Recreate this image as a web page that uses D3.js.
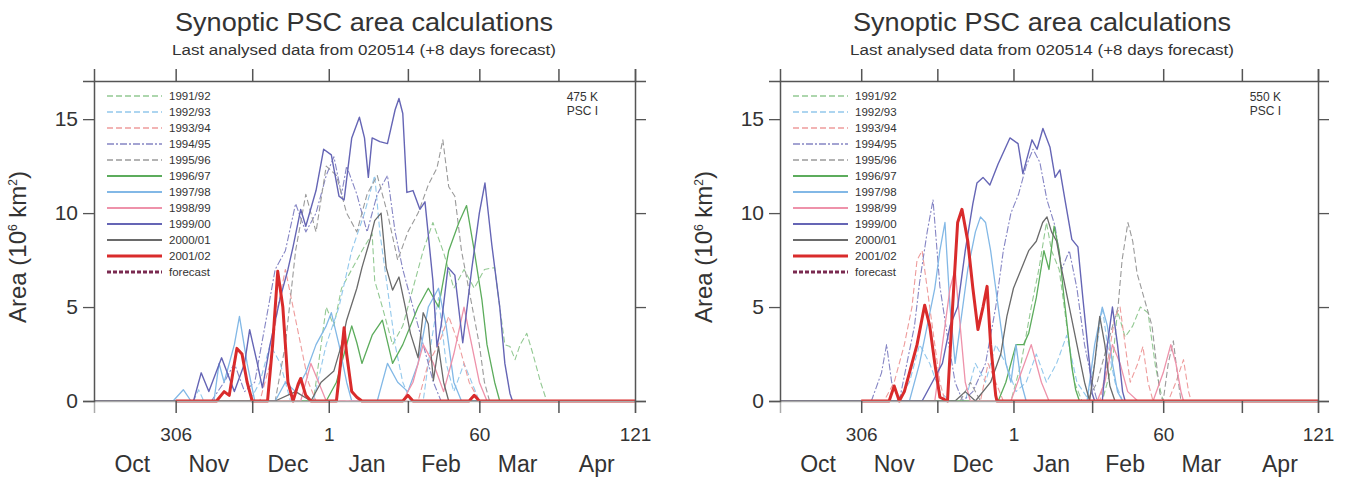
<!DOCTYPE html>
<html>
<head>
<meta charset="utf-8">
<script src="https://cdn.jsdelivr.net/npm/d3@7"></script>
<style>
  body { margin: 0; background: #fff; }
  svg { font-family: "Liberation Sans", Arial, sans-serif; }
</style>
</head>
<body>
<svg width="1350" height="479"></svg>
<script>
// day index: Jan 1 = 1, autumn days counted negative (doy - 365)
const seasons = ["1991/92", "1992/93", "1993/94", "1994/95", "1995/96", "1996/97",
                 "1997/98", "1998/99", "1999/00", "2000/01", "2001/02", "forecast"];
const dayTicks = [-59, -29, 1, 32, 60, 91, 121];
const dayTickLabels = {"-59": "306", "1": "1", "60": "60", "121": "121"};
const months = ["Oct", "Nov", "Dec", "Jan", "Feb", "Mar", "Apr"];
const monthMid = [-76, -46, -15, 16, 45, 75, 106];
const areaTicks = [0, 5, 10, 15];

// ---- 475 K ----
const k475_9192 = [[-91,0],[-5,0],[-2,3],[0,5],[3,4],[6,6],[10,7],[14,8],[18,8.9],[19,6.4],[22,5],[26,3],[30,4],[34,6],[38,8],[41.8,9.5],[46,7.9],[50,6],[54,7],[58,6],[62,7],[66,7.1],[68,5],[70,3],[72,2.9],[74,2.2],[76,3],[78.6,3.6],[81,2.5],[84,1],[86.4,0],[121,0]];
const k475_9293 = [[-91,0],[-52,0],[-50,0.6],[-48,0],[-30,0],[-26,1],[-22,3],[-18,2],[-14,0],[-5,0],[0,3],[5,5],[10,8],[15,10],[19,12],[21,9],[24,6],[27,3],[30,1],[33,0],[38,0],[41,3],[44,5.5],[47,2],[50,0.5],[54,2],[57,1],[60,0],[121,0]];
const k475_9394 = [[-91,0],[-26,0],[-22,2],[-19,5],[-16,7],[-13,5],[-10,3],[-7,1],[-4,0],[36,0],[40,2],[44,3],[48,4.5],[52,3],[56,1],[60,0],[121,0]];
const k475_9495 = [[-91,0],[-45,0],[-40,1],[-36,2],[-32,0.5],[-28,1],[-24,4],[-20,7],[-16,8],[-12,10.5],[-8,9],[-4,10],[0,12],[3,13],[6,11],[8,12.5],[12,11],[16,9],[20,11],[24,12],[27,9],[30,7],[34,5],[38,3],[42,1],[45,0],[121,0]];
const k475_9596 = [[-91,0],[-20,0],[-16,3],[-12,8],[-8,11],[-4,9],[0,12.5],[4,12],[8,10],[12,9],[16,11],[20,12],[24,10],[28,7.5],[32,9],[36,10],[40,11.5],[43.4,12.4],[45.7,13.9],[48,11.4],[50.4,10.9],[53,8],[57.5,4.8],[60,3],[62,1],[64,0],[121,0]];
const k475_9697 = [[-91,0],[0,0],[4,1],[7,2.5],[10,4],[12,3.1],[14,2],[18,3.5],[22,4.3],[26,2],[30,3],[36,5],[40,6],[44,5],[48,8],[52,9.5],[55,10.4],[58,8],[61,5.4],[63,3],[66,1],[68,0],[121,0]];
const k475_9798 = [[-91,0],[-60,0],[-56,0.6],[-53,0],[-44,0],[-42,2],[-40,1],[-36,3],[-34,4.5],[-31,2],[-28,0],[-20,0],[-16,1],[-12,0.5],[-8,1.5],[-4,3],[0,4],[2,4.7],[5,3],[8,1],[10,0],[20,0],[24,2],[28,1],[32,0.5],[36,2],[40,5],[44,6],[47,4],[50,1],[53,0],[121,0]];
const k475_9899 = [[-91,0],[-10,0],[-6,2],[-3,1],[0,0],[30,0],[34,1],[38,3],[42,2],[46,0.5],[50,2.5],[54,5],[57,3],[60,1],[63,0],[121,0]];
const k475_9900 = [[-91,0],[-52,0],[-49,1.5],[-46,0.5],[-41,2.3],[-36,0.5],[-32,2],[-30,3.8],[-27,2],[-25,0.7],[-22,3],[-18,5.5],[-15,7],[-13,8.2],[-10,10.2],[-8,9.3],[-4,11.2],[-1,13.4],[2,13.1],[5,10.9],[7,10.7],[10,14],[13,15.1],[15,14],[16.5,11.9],[18,14],[21,13.8],[24,13.7],[27,15.5],[28.5,16.1],[30,15.3],[31.6,11.1],[34,11.2],[36.7,10.2],[38.7,10.6],[41.8,6.4],[43.4,2.9],[45,4],[47.7,7.1],[50.4,6.7],[53.5,3.1],[57,7],[60,10],[62.2,11.6],[64.9,8.3],[68,5],[70,2],[72,0.4],[73,0],[121,0]];
const k475_0001 = [[-91,0],[-20,0],[-12,0.5],[-6,0],[-2,1],[3,1.6],[6,3],[8,4.3],[12,6],[14,7.1],[17,8.5],[19,9.6],[21.5,10],[23.5,7.1],[26,5.9],[28.5,6.6],[31,5],[33,3.6],[36,2.3],[38,4.7],[40,4.1],[42,1.1],[44,2.9],[46,1],[48,0],[121,0]];
const k475_0102 = [[-59,0],[-43,0],[-40,0.5],[-38,0.3],[-36,2],[-35,2.8],[-33,2.5],[-31,1],[-29,0],[-23,0],[-21,3],[-19,6.9],[-17,5],[-15,1],[-13,0],[-11,0.9],[-10,1.2],[-8,0.3],[-6,0],[4,0],[6,2.5],[7,3.9],[8,2.5],[10,0.5],[12,0.2],[14,0],[30,0],[32,0.3],[34,0],[56,0],[58,0.3],[60,0],[121,0]];

// ---- 550 K ----
const k550_9192 = [[-91,0],[0,0],[4,2],[8,5],[11,7],[14,9.5],[16,8],[19,7],[22,4],[25,1],[28,0],[36,0],[40,2],[42,4.8],[45,3.4],[48,4],[51,5],[54,4.7],[57,1.8],[59,0.5],[60,0],[121,0]];
const k550_9293 = [[-91,0],[-45,0],[-40,1],[-36,3],[-32,2],[-28,0.5],[-24,0],[-18,0],[-14,2],[-10,1],[-6,3],[-2,2],[2,0.5],[6,1],[10,2.5],[14,1],[18,2],[22,3.5],[26,1],[30,0.2],[33,2],[36,5],[38,3],[41,1],[44,0],[121,0]];
const k550_9394 = [[-91,0],[-50,0],[-46,1],[-42,3],[-39,5],[-37,7.5],[-35,8],[-33,6],[-30,3],[-28,1],[-26,0],[-12,0],[-9,2],[-6,1],[-3,0],[35,0],[38,2],[41,4.5],[43,5],[45,3],[47,1],[50,2],[52,2.9],[54,1],[56,0],[62,0],[65,1],[68,2.2],[70,0.5],[71,0],[121,0]];
const k550_9495 = [[-91,0],[-55,0],[-51,1.5],[-49,3],[-47,1],[-44,0],[-41,2],[-38,4],[-36,6.3],[-33,9],[-30.7,10.7],[-28,6.1],[-25.2,3.6],[-22,1],[-19,0],[-15,0.5],[-10,2],[-6,5],[-3,8],[0,10],[3,11],[6,12.5],[8.7,13.4],[11.4,12.7],[14.2,10.7],[17.4,9.3],[20,7],[23,8],[26,6],[29,3],[32,1],[34,0],[121,0]];
const k550_9596 = [[-91,0],[-20,0],[-16,1],[-12,0],[30,0],[34,1],[38,3],[42.2,5],[43.8,7.5],[46.1,9.5],[48,8.5],[49.7,6.8],[52,5.7],[55.6,4],[57.5,1.8],[58.7,0.4],[60,0],[62,2],[64,3.2],[66,1],[67,0],[121,0]];
const k550_9697 = [[-91,0],[-5,0],[-2,1],[2,3],[5,3],[7,3.6],[10,5.5],[13,8],[15,7],[17,9.3],[19,8],[21,5.4],[24,1.8],[25.5,0.6],[27,0],[121,0]];
const k550_9798 = [[-91,0],[-40,0],[-36,2],[-33,4],[-30,6],[-28,8],[-26,9.5],[-24,5],[-22,2],[-20,4],[-17,7],[-14,9],[-12,9.8],[-10,9.5],[-8,8],[-6,6],[-4,4],[-2,2],[0,1],[2,3],[4,1],[6,0],[30,0],[33,3],[36,5],[38,4],[40,2],[42,0.5],[44,0],[121,0]];
const k550_9899 = [[-91,0],[-30,0],[-27,3],[-24,6],[-22,7],[-20,4],[-18,1],[-16,0],[0,0],[4,1.5],[8,3],[12,1],[15,0],[34,0],[37,1],[40,3],[43,2],[46,0.5],[50,0],[56,0],[60,1.5],[63,3],[65,2],[67,0.5],[68,0],[121,0]];
const k550_9900 = [[-91,0],[-35,0],[-31,1],[-27,2],[-24,4],[-21,5],[-18,8],[-15,10.5],[-13.4,11.6],[-11,11.9],[-8.3,11.5],[-5.1,12.6],[-0.4,14],[2.8,13.7],[4.7,12.1],[8.3,13.9],[10.3,13.4],[12.6,14.5],[15.4,13.5],[17.4,11.9],[19.3,12.3],[21.3,10.7],[24,8.6],[26.4,8.2],[28.4,5.4],[31.1,1.8],[32,0.4],[33,0],[36,0],[38,3],[40,5],[42,3],[44,0.5],[45,0],[121,0]];
const k550_0001 = [[-91,0],[-22,0],[-18,0.5],[-14,0],[-8,1],[-4,2.5],[-1.6,4.5],[1,6],[4,7],[7,8],[10,8.5],[12.5,9.5],[14.2,9.8],[16,9],[18,8.5],[20,7],[23,5],[26,3],[29,1],[31,0],[33,2],[35,4.5],[37,3],[39,0.8],[41,0],[121,0]];
const k550_0102 = [[-59,0],[-48,0],[-46,0.8],[-44,0],[-42,0.5],[-40,1.5],[-37,3],[-34,5.1],[-32,4],[-30,2],[-28,0.2],[-25,0],[-23,5],[-21,9.5],[-19.3,10.2],[-17,8.5],[-15,6],[-13,3.8],[-11,5],[-9.4,6.1],[-8,3],[-6,0.3],[-5.5,0],[121,0]];

const styleMap = {
    "1991/92": {color: "#93c993", dash: "6,3", width: 1.1},
    "1992/93": {color: "#93c8ec", dash: "6,3", width: 1.1},
    "1993/94": {color: "#ee9c9c", dash: "6,3", width: 1.1},
    "1994/95": {color: "#8585c4", dash: "7,2,2,2", width: 1.1},
    "1995/96": {color: "#9a9a9a", dash: "6,3", width: 1.1},
    "1996/97": {color: "#5cac5c", dash: null, width: 1.3},
    "1997/98": {color: "#82b8e6", dash: null, width: 1.3},
    "1998/99": {color: "#ee92aa", dash: null, width: 1.3},
    "1999/00": {color: "#6565b5", dash: null, width: 1.4},
    "2000/01": {color: "#6a6a6a", dash: null, width: 1.3},
    "2001/02": {color: "#d92b2b", dash: null, width: 3},
    "forecast": {color: "#7a2a50", dash: "4,2", width: 3}
};

function drawPanel(svg, cfg) {
    const y0 = 401, yTop = 81;
    const x = d3.scaleLinear().domain([-91, 121]).range([cfg.left, cfg.right]);
    const y = d3.scaleLinear().domain([0, 17.03]).range([y0, yTop]);
    const g = svg.append("g");

    // titles (the picture is a little wider than normal type)
    g.append("text").attr("x", cfg.titleX).attr("y", 31)
        .attr("text-anchor", "middle").style("font-size", "25px").style("fill", "#333")
        .attr("textLength", 378).attr("lengthAdjust", "spacingAndGlyphs")
        .text("Synoptic PSC area calculations");
    g.append("text").attr("x", cfg.titleX).attr("y", 55)
        .attr("text-anchor", "middle").style("font-size", "14px").style("fill", "#333")
        .attr("textLength", 384).attr("lengthAdjust", "spacingAndGlyphs")
        .text("Last analysed data from 020514 (+8 days forecast)");

    // series lines
    const line = d3.line().x(d => x(d[0])).y(d => y(d[1]));
    const order = seasons.slice(0, 11);
    order.forEach((s, i) => {
        const st = styleMap[s];
        g.append("path")
            .datum(cfg.series[i])
            .attr("fill", "none")
            .attr("stroke", st.color)
            .attr("stroke-width", st.width)
            .attr("stroke-dasharray", st.dash)
            .attr("stroke-linejoin", "round")
            .attr("d", line);
    });

    // frame
    const axisColor = "#555";
    const bottom = g.append("g").attr("transform", `translate(0,${y0})`)
        .call(d3.axisBottom(x).tickValues(dayTicks).tickSize(12).tickPadding(15)
            .tickFormat(d => dayTickLabels[d] || ""));
    bottom.select(".domain").attr("stroke", "#aaa").attr("stroke-width", 1.5);
    bottom.selectAll(".tick line").attr("stroke", axisColor).attr("stroke-width", 1.5);
    bottom.selectAll("text").style("font-size", "19px").style("fill", "#333");

    const top = g.append("g").attr("transform", `translate(0,${yTop})`)
        .call(d3.axisTop(x).tickValues(dayTicks).tickSize(12).tickFormat(""));
    top.select(".domain").attr("stroke", axisColor).attr("stroke-width", 1.5);
    top.selectAll(".tick line").attr("stroke", axisColor).attr("stroke-width", 1.5);

    const minor = d3.range(0, 18);
    [["left", d3.axisLeft, cfg.left], ["right", d3.axisRight, cfg.right]].forEach(([side, ax, px]) => {
        const ga = g.append("g").attr("transform", `translate(${px},0)`);
        ga.call(ax(y).tickValues(minor).tickSize(5).tickFormat(""));
        ga.call(ax(y).tickValues(areaTicks).tickSize(11).tickPadding(5)
            .tickFormat(side === "left" ? d3.format("d") : ""));
        ga.selectAll(".domain").attr("stroke", axisColor).attr("stroke-width", 1.5);
        ga.selectAll(".tick line").attr("stroke", axisColor).attr("stroke-width", 1.3);
        ga.selectAll("text").style("font-size", "21px").style("fill", "#333");
    });

    // months
    g.selectAll(".month").data(months).enter().append("text")
        .attr("x", (d, i) => x(monthMid[i])).attr("y", 472)
        .attr("text-anchor", "middle").style("font-size", "23px").style("fill", "#333")
        .text(d => d);

    // y label
    const yl = g.append("text")
        .attr("transform", `translate(${cfg.left - 68},${(y0 + yTop) / 2 + 6}) rotate(-90)`)
        .attr("text-anchor", "middle").style("font-size", "24px").style("fill", "#333");
    yl.append("tspan").text("Area (10");
    yl.append("tspan").attr("dy", -9).style("font-size", "12px").text("6");
    yl.append("tspan").attr("dy", 9).text(" km");
    yl.append("tspan").attr("dy", -9).style("font-size", "12px").text("2");
    yl.append("tspan").attr("dy", 9).text(")");

    // legend
    const leg = g.append("g").attr("transform", `translate(${cfg.left + 13},96)`);
    seasons.forEach((s, i) => {
        const st = styleMap[s];
        const row = leg.append("g").attr("transform", `translate(0,${i * 16})`);
        row.append("line").attr("x1", 0).attr("x2", 55).attr("y1", 0).attr("y2", 0)
            .attr("stroke", st.color)
            .attr("stroke-width", i >= 10 ? 3 : (i >= 5 ? 1.8 : 1.3))
            .attr("stroke-dasharray", st.dash);
        row.append("text").attr("x", 62).attr("y", 4)
            .style("font-size", "11.5px").style("fill", "#333").text(s);
    });

    // level annotation
    g.append("text").attr("x", cfg.right - 37).attr("y", 101)
        .attr("text-anchor", "end").style("font-size", "12px").style("fill", "#333").text(cfg.level);
    g.append("text").attr("x", cfg.right - 37).attr("y", 115)
        .attr("text-anchor", "end").style("font-size", "12px").style("fill", "#333").text("PSC I");
}

const svg = d3.select("svg");
drawPanel(svg, {
    left: 94, right: 635, titleX: 364, level: "475 K",
    series: [k475_9192, k475_9293, k475_9394, k475_9495, k475_9596, k475_9697,
             k475_9798, k475_9899, k475_9900, k475_0001, k475_0102]
});
drawPanel(svg, {
    left: 780, right: 1318, titleX: 1042, level: "550 K",
    series: [k550_9192, k550_9293, k550_9394, k550_9495, k550_9596, k550_9697,
             k550_9798, k550_9899, k550_9900, k550_0001, k550_0102]
});
</script>
</body>
</html>
